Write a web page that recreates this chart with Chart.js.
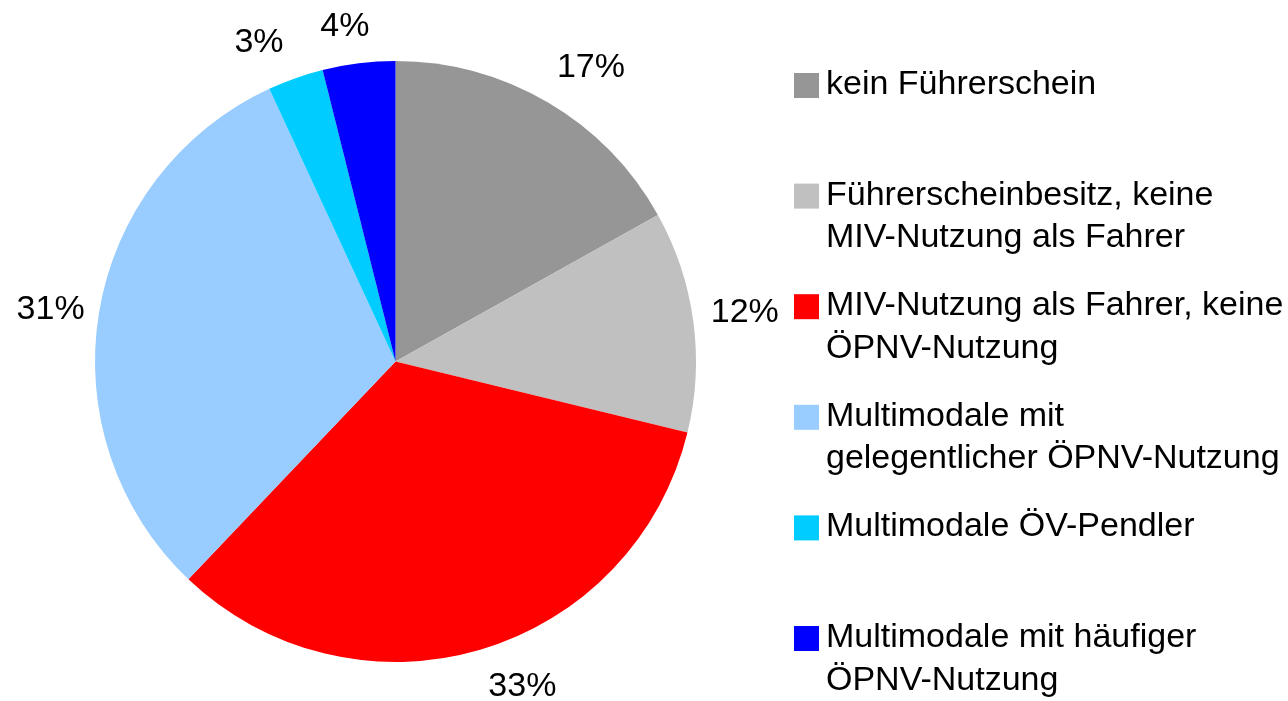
<!DOCTYPE html>
<html>
<head>
<meta charset="utf-8">
<script src="https://cdn.jsdelivr.net/npm/chart.js@4"></script>
<style>
  html, body { margin: 0; padding: 0; background: #fff; }
  #wrap { width: 1288px; height: 701px; }
</style>
</head>
<body>
<div id="wrap"><canvas id="c" width="1288" height="701"></canvas></div>
<script>
// Pie of mobility groups, slices clockwise from 12 o'clock.
const categories = [
  "kein Führerschein",
  "Führerscheinbesitz, keine\nMIV-Nutzung als Fahrer",
  "MIV-Nutzung als Fahrer, keine\nÖPNV-Nutzung",
  "Multimodale mit\ngelegentlicher ÖPNV-Nutzung",
  "Multimodale ÖV-Pendler",
  "Multimodale mit häufiger\nÖPNV-Nutzung",
];
const shares = [16.9, 11.9, 33.3, 31.0, 3.0, 3.9];
const shareLabels = ["17%", "12%", "33%", "31%", "3%", "4%"];
const colors = ["#969696", "#c0c0c0", "#ff0000", "#99ccff", "#00ccff", "#0000ff"];

const FONT = '34px "Liberation Sans", Arial, sans-serif';

// Percent labels outside each slice, box pushed outward along the mid angle.
// nudge: small per-label shifts to match the original's label placement.
const outsideLabels = {
  id: "outsideLabels",
  afterDatasetsDraw(chart, args, opts) {
    const { ctx } = chart;
    const nudge = opts.nudge || [];
    const arcs = chart.getDatasetMeta(0).data;
    ctx.save();
    ctx.font = FONT;
    ctx.fillStyle = "#000";
    ctx.textAlign = "center";
    ctx.textBaseline = "middle";
    arcs.forEach((arc, i) => {
      const p = arc.getProps(["x", "y", "startAngle", "endAngle", "outerRadius"], true);
      const mid = (p.startAngle + p.endAngle) / 2;
      const dx = Math.cos(mid), dy = Math.sin(mid);
      const text = shareLabels[i];
      const w = ctx.measureText(text).width;
      const h = 25;
      const r = p.outerRadius + 16;
      const [nx, ny] = nudge[i] || [0, 0];
      const cx = p.x + dx * r + dx * w / 2 + nx;
      const cy = p.y + dy * r + dy * h / 2 + ny;
      ctx.fillText(text, cx, cy);
    });
    ctx.restore();
  },
};

// Legend on the right: square marker + wrapped label, evenly spaced rows.
const sideLegend = {
  id: "sideLegend",
  afterDraw(chart) {
    const { ctx } = chart;
    const x0 = 794, textX = 826, firstBase = 94, step = 110.6, lineH = 42.5;
    ctx.save();
    ctx.font = FONT;
    ctx.textAlign = "left";
    ctx.textBaseline = "alphabetic";
    categories.forEach((label, i) => {
      const base = firstBase + i * step;
      ctx.fillStyle = colors[i];
      ctx.fillRect(x0, base - 21, 25, 25);
      ctx.fillStyle = "#000";
      label.split("\n").forEach((line, j) => {
        ctx.fillText(line, textX, base + j * lineH);
      });
    });
    ctx.restore();
  },
};

new Chart(document.getElementById("c"), {
  type: "pie",
  data: {
    labels: categories,
    datasets: [{
      data: shares,
      backgroundColor: colors,
      borderWidth: 0,
    }],
  },
  options: {
    responsive: false,
    animation: false,
    layout: { padding: { left: 95, right: 592, top: 61, bottom: 39 } },
    plugins: {
      legend: { display: false },
      tooltip: { enabled: false },
      outsideLabels: {
        nudge: [[18, -10], [2, -5], [28, 9], [1, 2], [-23, -9], [-9, -8]],
      },
    },
  },
  plugins: [outsideLabels, sideLegend],
});
</script>
</body>
</html>
